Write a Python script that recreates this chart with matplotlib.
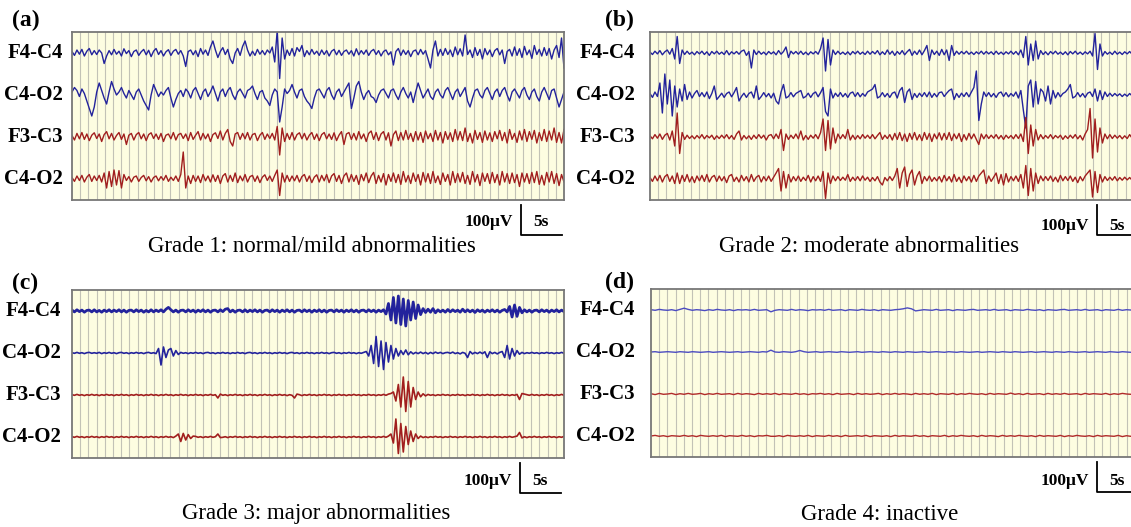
import numpy as np
import matplotlib
matplotlib.use('Agg')
import matplotlib.pyplot as plt
import matplotlib.transforms as mtransforms

channel_labels = ['F4-C4', 'C4-O2', 'F3-C3', 'C4-O2']
panel_letters = ['(a)', '(b)', '(c)', '(d)']
captions = ['Grade 1: normal/mild abnormalities', 'Grade 2: moderate abnormalities',
            'Grade 3: major abnormalities', 'Grade 4: inactive']
duration_s = 60
scale_amp = 100      # microvolts
scale_time = 5       # seconds
scale_amp_label = '100\u03bcV'
scale_time_label = '5s'

# ---- Panel (a): Grade 1 (values in microvolts, 0.3 s apart) ----
a_f4c4 = [5, -8, 10, -4, 12, -10, 6, 15, -6, 8,
          -5, 10, 0, -35, -10, 8, -6, 12, -4, 6,
          -10, 14, -2, 8, -12, 5, 10, -8, 4, 12,
          -6, 9, -12, 6, 15, -5, 8, -10, 4, 11,
          -8, 6, 12, -4, 8, -10, -45, 5, 10, -6,
          8, -12, 15, -4, 10, -8, 20, 40, 10, -15,
          5, 18, -5, 12, -20, -35, 0, 15, -8, 22,
          40, 10, -10, 6, -8, 12, -4, 8, -6, 10,
          0, 20, -30, 75, -85, 50, -20, 10, -8, 15,
          -10, 18, 5, 25, -12, 8, -6, 12, -4, 6,
          -8, 10, -5, 8, -10, 6, 12, -6, 9, -8,
          5, 10, -4, 8, -10, 14, -6, 8, -4, 10,
          -8, 6, 12, -5, 8, -10, 5, 10, -6, 4,
          -40, 5, 15, -8, 10, -5, 8, -12, 6, 10,
          -6, 12, -4, 8, -20, -50, 10, 40, -10, 12,
          -8, 15, -5, 10, -12, 20, -6, 14, -10, 60,
          -5, 10, -15, 18, -8, 12, -20, 15, -6, 10,
          -12, 8, 15, -6, 10, -35, 5, 12, -10, 20,
          -8, 14, -15, 22, -6, 10, -18, 25, -5, 12,
          -10, 18, -8, 15, -20, 10, 25, -15, 50, -50]
a_c4o2 = [10, 25, 15, -5, 20, 5, -20, -45, -70, -40,
          10, 40, 15, -10, -30, 10, 45, 20, 0, 10,
          25, 5, -10, 15, 0, -15, 10, 20, 0, -20,
          -35, -50, 0, 35, 15, -5, 10, 0, 15, 25,
          -10, -40, -15, 5, 15, -5, 20, 10, -10, 15,
          25, 5, -15, 10, 20, -5, 10, 30, 5, -20,
          10, 20, -5, 15, 25, 0, -15, 10, 20, 5,
          -10, 15, 20, 30, 5, -15, 10, 15, -10, -20,
          -35, 0, 20, 10, -90, -40, 20, 5, 15, 35,
          10, -10, 15, 20, -5, -20, -30, -45, -10, 15,
          20, 5, -10, 15, 25, 0, -15, 10, 20, -5,
          10, 25, 40, -45, -10, 30, 45, 10, -15, 5,
          15, -5, -10, -25, 0, 15, 20, 5, -10, 15,
          20, 0, -15, 10, 25, 5, -10, 10, -25, 10,
          40, 15, -10, 5, 20, -5, -15, 10, 20, 0,
          -10, 15, 25, 5, -15, 10, 20, -5, 10, 25,
          -20, -40, -10, 15, 20, 0, -10, 15, 25, 5,
          -15, 10, 20, -5, 15, 25, 0, -20, 10, 20,
          5, -10, 15, 25, 0, -15, 10, 20, -5, -20,
          10, 25, 5, -15, 15, 20, -10, -40, -15, 10]
a_f3c3 = [5, -10, 12, -6, 15, -8, 10, -12, 6, 14,
          -5, 10, -15, 8, 18, -6, 12, -10, 5, 15,
          -8, 10, -25, 6, 12, -10, 8, 15, -6, 10,
          -12, 8, 14, -5, 10, -8, 12, -15, 6, 10,
          -6, 15, -10, 8, 12, -5, 10, -12, 15, -8,
          6, 18, -10, 12, -6, 10, -15, 8, 14, -5,
          20, -10, 12, 25, -15, -30, 10, 15, -8, 12,
          -6, 15, -10, 8, 12, -12, 6, 15, -8, 10,
          -5, 12, -10, 35, -60, 30, -15, 12, -8, 15,
          -10, 8, 14, -6, 12, -10, 6, 15, -8, 10,
          -12, 8, 15, -6, 10, -8, 14, -12, 6, 18,
          -25, 10, 15, -8, 12, -10, 18, -6, 10, -15,
          12, 20, -8, 15, -12, 10, 18, -10, 14, -30,
          8, 20, -12, 15, -10, 22, -8, 12, -15, 18,
          -10, 15, -18, 20, -6, 12, -15, 22, -10, 15,
          -20, 18, -8, 14, -15, 25, -10, 18, -12, 30,
          -15, 12, -20, 22, -8, 15, -18, 20, -10, 14,
          -15, 18, -6, 22, -12, 15, -20, 25, -8, 12,
          -18, 20, -10, 25, -15, 18, -8, 22, -20, 15,
          -12, 25, -15, 20, -10, 30, -18, 15, -20, 25]
a_c4o2_r = [5, -8, 10, -5, 12, -10, 6, 15, -8, 10,
            -5, 12, -10, 20, -30, 25, -25, 30, -20, 28,
            -30, 15, -5, 8, -10, 6, 10, -8, 5, 12,
            -6, 8, -10, 5, 10, -6, 8, -4, 12, -8,
            6, -5, 10, -8, 15, 90, -30, 10, -15, 12,
            -8, 10, -12, 15, -6, 10, -10, 14, -8, 12,
            -15, 10, 18, -10, 12, -8, 20, -12, 10, -6,
            15, -10, 8, 12, -8, 10, -12, 6, 14, -5,
            10, -8, 12, 30, -55, 20, -10, 12, -8, 10,
            -6, 12, -10, 8, 15, -8, 10, -12, 6, 14,
            -10, 12, -6, 15, -12, 10, 18, -8, 12, -15,
            10, 20, -10, 15, -8, 12, -18, 15, -6, 20,
            -12, 10, 22, -15, 12, -10, 18, -20, 15, -8,
            20, -12, 15, -18, 25, -10, 12, -15, 20, -8,
            15, -20, 22, -10, 18, -15, 25, -12, 10, -18,
            20, -8, 15, -20, 25, -12, 18, -10, 22, -15,
            12, -18, 25, -10, 15, -22, 20, -8, 18, -15,
            22, -12, 15, -20, 25, -10, 18, -15, 20, -12,
            15, -25, 20, -10, 18, -15, 22, -12, 25, -18,
            12, -20, 22, -10, 25, -15, 18, -22, 15, -10]

# ---- Panel (b): Grade 2 ----
b_f4c4 = [3, -5, 6, -3, 8, -6, 4, 10, -4, 15,
          -20, 55, -35, 10, -5, 6, -4, 3, -6, 5,
          -3, 6, -5, 4, -8, 5, -3, 6, -4, 3,
          -5, 8, -6, 4, -3, 5, -4, 6, 10, -8,
          5, -50, 10, -5, 6, -4, 3, -6, 5, -3,
          4, -6, 8, -4, 5, 20, -15, 6, -3, 5,
          -4, 6, -5, 3, -6, 4, -3, 5, -4, 15,
          50, -60, 45, -40, 10, -5, 6, -4, 3, -5,
          4, -6, 5, -3, 6, -4, 3, -5, 6, -4,
          5, -3, 8, -6, 4, -5, 10, -4, 6, -8,
          5, -4, 8, -6, 4, 12, -8, 6, -5, 10,
          -6, 8, 25, -25, 10, -5, 6, -8, 12, -6,
          10, -25, 25, -8, 6, -4, 5, -3, 6, -4,
          3, -5, 4, -3, 6, -4, 5, -3, 4, -5,
          6, -4, 3, -5, 4, -3, 6, -4, 5, -6,
          10, -15, 55, -40, 30, -25, 40, -20, 8, -5,
          4, -6, 5, -3, 6, -4, 3, -5, 4, -6,
          5, -3, 6, -4, 3, -5, 4, -3, 6, -10,
          65, -55, 30, -10, 5, -4, 3, -5, 6, -4,
          3, -5, 4, -3, 5, -4, 3, -5, 4, -3]
b_c4o2 = [5, -8, 10, -5, 40, -60, 70, -30, 50, -70,
          30, -40, 20, -20, 35, -15, 10, -10, 5, 15,
          -5, 8, -6, 10, -12, 5, 30, -15, -5, 6,
          -8, 5, 10, -6, 8, 25, -20, -5, 6, -8,
          5, 10, -10, 30, -15, -5, 8, -6, 5, -10,
          6, -20, -30, 10, 35, -10, -5, 8, -6, 5,
          10, 15, -10, -5, 6, -8, 5, 10, -6, 8,
          25, -55, -70, 20, -10, 6, -5, 8, -6, 5,
          -8, 6, 10, -5, 8, -6, 5, -4, 10, 15,
          20, 35, -10, -5, 8, -6, 5, -8, 6, 10,
          -10, 15, 25, -25, 10, 20, -15, 5, -8, 6,
          -5, 8, -6, 10, -8, 5, -6, 8, 10, -5,
          6, 15, 20, -15, 5, -8, 6, -5, 8, -6,
          10, 25, 80, -85, -30, 10, -5, 8, -6, 5,
          -8, 6, 10, -5, 8, -6, 5, -4, 10, -10,
          15, -50, -110, 30, 50, -40, 45, -30, 20, 10,
          -20, 30, -30, 15, -10, 8, -6, 5, 10, 20,
          35, -10, -5, 8, -6, 5, -8, 6, 10, -5,
          20, -20, 15, -15, 10, -5, 6, -4, 5, -3,
          4, -5, 3, -4, 5, -3, 4, -5, 3, -4]
b_f3c3 = [4, -6, 8, -4, 10, -8, 6, 12, -10, 20,
          -30, 80, -55, 15, -8, 6, -5, 4, -6, 5,
          -4, 8, -6, 5, -3, 6, -8, 4, -5, 6,
          -4, 8, -6, 5, -8, 10, 20, -10, 5, -6,
          4, -8, 6, -5, 8, -4, 6, -10, 5, 8,
          -6, 10, -5, 25, -45, 10, -8, 6, -5, 10,
          -6, 20, -10, 5, -8, 6, -4, 8, -6, 15,
          60, -45, 55, -40, 30, -20, 10, -6, 8, -5,
          25, -10, 6, -8, 5, -6, 8, -4, 6, -5,
          8, -6, 5, 15, -8, 6, -5, 8, -10, 12,
          -8, 15, -12, 10, -15, 12, -8, 15, -10, 8,
          -12, 15, -8, 12, -15, 10, -6, 14, -10, 12,
          -8, 15, -12, 10, -6, 12, -15, 8, -10, 12,
          -6, 10, -8, -25, 10, -6, 8, -5, 6, -4,
          8, -6, 5, -8, 6, -4, 5, -6, 8, -5,
          10, -15, 65, -55, 40, -30, 25, -10, 8, -6,
          5, -4, 8, -6, 5, -3, 6, -8, 4, -5,
          6, -4, 8, -6, 5, -10, 10, 25, 95, -70,
          60, -50, 30, -20, 10, -6, 8, -5, 6, -4,
          5, -6, 4, -5, 8, -4, 6, -5, 4, -6]
b_c4o2_r = [5, -8, 10, -6, 12, -10, 8, 15, -8, 10,
            -15, 20, -15, 12, -8, 15, -10, 8, -12, 10,
            -6, 12, -8, 15, -10, 6, 12, -8, 10, -6,
            8, -12, 10, 15, -8, 6, -10, 12, -6, 8,
            -10, 15, -8, 6, 12, -10, 8, -6, 10, -8,
            6, 20, 35, -40, 25, -30, 15, -10, 8, -6,
            10, -8, 6, -5, 12, -10, 8, -6, 10, -8,
            25, -65, 20, -15, 10, -6, 8, -5, 6, -4,
            15, -8, 6, -5, 8, -6, 10, -4, 6, -8,
            5, -6, 8, -10, -20, 5, -6, 8, -5, 10,
            35, -30, 20, 40, -25, 15, 30, -20, 10, 25,
            -15, 8, -6, 10, -8, 5, -6, 8, -10, 12,
            -6, 8, -10, 15, -8, 6, -12, 10, -6, 8,
            -10, 12, -8, 10, 20, 30, -15, 10, -8, 6,
            20, -15, 15, -20, 18, -10, 8, -6, 10, -8,
            15, -30, 45, -55, 35, -40, 20, -15, 10, -6,
            8, -5, 10, -8, 6, -10, 12, -6, 8, -5,
            10, -8, 6, -12, 8, -6, 10, 20, 30, -60,
            25, -45, 15, -10, 8, -5, 6, -4, 8, -6,
            5, -4, 6, -3, 5, -4, 3, -5, 4, -3]

# ---- Panel (c): Grade 3 ----
c_f4c4 = [3, -3, 4, -2, 3, -4, 2, 3, -3, 4,
          -3, 2, -4, 3, -2, 4, -3, 3, -2, 4,
          -3, 3, -4, 2, 3, -3, 4, -2, 3, -4,
          2, -3, 4, -3, 3, -2, 4, -3, 6, 12,
          4, -3, 3, -4, 2, 3, -3, 4, -2, 3,
          -4, 3, -2, 4, -3, 3, -4, 2, 3, -3,
          4, -2, 6, 8, -3, 3, -4, 2, 3, -3,
          4, -3, 3, -2, 4, -3, 3, -4, 2, 3,
          -3, 4, -2, 3, -4, 3, -2, 4, -3, 3,
          -4, 2, 3, -3, 4, -2, 3, -4, 3, -2,
          4, -3, 3, -4, 2, 3, -3, 4, -2, 3,
          -4, 3, -2, 4, -3, 3, -4, 2, 3, -3,
          4, -2, 3, -4, 3, -2, 4, -10, 25, -30,
          45, -40, 50, -45, 40, -50, 35, -30, 30, -25,
          20, -12, 8, -5, 6, -4, 8, -6, 4, -3,
          3, -4, 5, -3, 4, -2, 3, -4, 6, -3,
          4, -3, 3, -5, 4, -2, 3, -4, 3, -2,
          4, -3, 3, -4, 2, 5, -3, 15, -20, 20,
          -18, 12, -6, 4, -3, 3, -4, 2, 3, -3,
          4, -2, 3, -4, 3, -2, 4, -3, 3, -2]
c_c4o2 = [1, -1, 2, -1, 1, -2, 1, 2, -1, 1,
          -1, 2, -2, 1, -1, 2, -1, 1, -2, 1,
          2, -1, 1, -2, 1, -1, 2, -1, 1, -2,
          1, 2, -1, 1, -2, 15, -40, 20, -15, 10,
          15, -10, 8, -5, 2, -1, 1, -2, 1, -1,
          2, -1, 1, -2, 1, 2, -1, 1, -2, 1,
          -1, 2, -1, 1, -2, 1, -1, 2, -1, 1,
          -2, 1, 2, -1, 1, -2, 1, -1, 2, -1,
          1, -2, 1, -1, 2, -1, 1, -2, 1, 2,
          -1, 1, -2, 1, -1, 2, -1, 1, -2, 1,
          -1, 2, -1, 1, -2, 1, 2, -1, 1, -2,
          1, -1, 2, -1, 1, -2, 1, -1, 2, 5,
          -10, 25, -35, 55, -45, 40, -55, 35, -30, 25,
          -20, 15, -10, 8, -5, 10, -6, 4, -3, 2,
          -2, 3, -2, 2, -3, 2, -2, 3, -1, 2,
          -2, 1, 2, -1, 3, -2, 1, -3, 2, -1,
          -15, 5, -3, 2, -2, 3, -2, 4, -15, 4,
          -2, 2, -3, 2, 5, -15, 25, -20, 15, -10,
          8, -4, 2, -2, 1, -1, 2, -1, 1, -2,
          1, -1, 2, -1, 1, -2, 1, -1, 2, -1]
c_f3c3 = [1, -1, 2, -1, 1, -2, 1, -1, 2, -1,
          1, -2, 1, -1, 2, -1, 1, -2, 1, -1,
          2, -1, 1, -2, 1, -1, 2, -1, 1, -2,
          1, -1, 2, -1, 1, -2, 1, -1, 2, -1,
          1, -2, 1, -1, 2, -1, 1, -2, 1, -1,
          2, -1, 1, -2, 1, -1, 2, -1, 1, -10,
          3, -1, 1, -2, 1, -1, 2, -1, 1, -2,
          1, -1, 2, -1, 1, -2, 1, -1, 2, -1,
          1, -2, 1, -1, 2, -1, 1, -2, 1, -1,
          -10, 3, 1, -2, 1, -1, 2, -1, 1, -2,
          1, -1, 2, -1, 1, -2, 1, -1, 2, -1,
          1, -2, 1, -1, 2, -1, 1, -2, 1, -1,
          2, -1, 1, -2, 1, -1, 2, -1, 3, 5,
          10, -20, 35, -40, 60, -55, 45, -40, 25, -15,
          10, -6, 4, -3, 2, -1, 1, -2, 1, -1,
          2, -1, 1, -2, 1, -1, 2, -1, 1, -2,
          1, -1, 2, -1, 1, -2, 1, -1, 2, -1,
          1, -2, 1, -1, 2, -1, 1, -2, 1, -1,
          2, -15, 5, 3, 1, -1, 2, -1, 1, -2,
          1, -1, 2, -1, 1, -2, 1, -1, 2, -1]
c_c4o2_r = [1, -1, 2, -1, 1, -2, 1, -1, 2, -1,
            1, -2, 1, -1, 2, -1, 1, -2, 1, -1,
            2, -1, 1, -2, 1, -1, 2, -1, 1, -2,
            1, -1, 2, -1, 1, -2, 1, -1, 2, -1,
            1, -2, 3, 10, -15, 12, -10, 8, -5, 3,
            2, -1, 1, -2, 1, -1, 2, -1, 1, 10,
            -2, -1, 1, -2, 1, -1, 2, -1, 1, -2,
            1, -1, 2, -1, 1, -2, 1, -1, 2, -1,
            1, -2, 1, -1, 2, -1, 1, -2, 1, -1,
            2, -1, 1, -2, 1, -1, 2, -1, 1, -2,
            1, -1, 2, -1, 1, -2, 1, -1, 2, -1,
            1, -2, 1, -1, 2, -1, 1, -2, 1, -1,
            2, -1, 1, -2, 1, -1, 2, -1, 3, 10,
            -20, 60, -55, 45, -50, 35, -25, 20, -15, 10,
            -5, 3, -2, 1, -2, 1, -1, 2, -1, 1,
            -2, 1, -1, 2, -1, 1, -2, 1, -1, 2,
            -1, 1, -2, 1, -1, 2, -1, 1, -2, 1,
            -1, 2, -1, 1, -2, 1, -1, 2, -1, 1,
            3, 15, -3, 1, -2, 1, -1, 2, -1, 1,
            -2, 1, -1, 2, -1, 1, -2, 1, -1, 2]

# ---- Panel (d): Grade 4 (0.5 s apart) ----
d_f4c4 = [1, -1, 2, 0, -1, 1, -2, 2, 6, 2,
          -1, 1, 0, -2, 1, -1, 2, 0, -1, 1,
          -2, 1, 0, 1, -1, 2, -1, 0, 1, -6,
          -1, 1, 0, -1, 2, -1, 1, 0, -2, 1,
          0, 1, -1, 2, -1, 0, 1, -2, 1, 0,
          -1, 2, 0, -1, 1, -2, 1, 0, -1, 1,
          2, 4, 7, 4, -3, -1, 1, 0, -1, 2,
          -1, 0, 1, -2, 1, 0, -1, 1, 2, -1,
          0, 1, -1, 2, -1, 0, 1, -2, 1, 0,
          -1, 2, 0, -1, 1, -2, 1, 0, -1, 1,
          2, -1, 0, 1, -1, 2, -1, 0, 1, -2,
          1, 0, -1, 2, -1, 1, 0, -2, 1, 0]
d_c4o2 = [0, 1, -1, 0, 1, 0, -1, 1, 0, -1,
          1, 0, -1, 0, 1, -1, 0, 1, 0, -1,
          0, 1, -1, 0, 1, 0, -1, 1, 0, 6,
          0, -1, 1, 0, -1, 1, 5, 1, -1, 0,
          1, -1, 0, 1, 0, -1, 1, 0, -1, 0,
          1, -1, 0, 1, 0, -1, 1, 0, -1, 1,
          0, -1, 1, 0, -1, 0, 1, -1, 0, 1,
          0, -1, 1, 0, -1, 1, 0, -1, 0, 1,
          -1, 0, 1, 0, -1, 1, 0, -1, 1, 0,
          -1, 0, 1, -1, 0, 1, 0, -1, 1, 0,
          -1, 1, 0, -1, 0, 1, -1, 0, 1, 0,
          -1, 1, 0, -1, 1, 0, -1, 0, 1, -1]
d_f3c3 = [1, -2, 2, -1, 0, 2, -2, 1, -1, 2,
          -1, 0, 2, -2, 1, -1, 2, -1, 0, 1,
          -2, 2, -1, 1, 0, -2, 2, -1, 1, -1,
          2, -2, 1, 0, -1, 2, -1, 1, -2, 1,
          0, 2, -1, 1, -2, 2, -1, 0, 1, -2,
          2, -1, 1, -1, 0, 2, -2, 1, -1, 2,
          -1, 1, 0, -2, 2, -1, 1, -1, 2, -2,
          1, 0, -1, 2, -2, 1, -1, 2, 0, -1,
          1, -2, 2, -1, 1, 0, -1, 3, -1, 1,
          -2, 2, -1, 0, 1, -2, 2, -1, 1, -1,
          2, -1, 0, 1, -2, 2, -1, 1, 0, -1,
          2, -2, 1, -1, 2, 0, -1, 1, -2, 1]
d_c4o2_r = [0, 2, -1, 1, -2, 1, 0, -1, 2, -1,
            1, -2, 2, 0, -1, 1, -1, 2, -2, 1,
            0, -1, 2, -1, 1, -2, 1, 0, 2, -1,
            -1, 1, -2, 2, 0, -1, 1, -1, 2, -2,
            1, 0, -1, 2, -1, 1, -2, 2, -1, 0,
            1, -1, 2, -2, 1, 0, -1, 1, -2, 2,
            -1, 1, 0, -1, 2, -1, 1, -2, 1, 0,
            -1, 2, -2, 1, -1, 2, 0, -1, 1, -2,
            2, -1, 1, 0, -2, 2, -1, 1, -1, 2,
            0, -1, 1, -2, 2, -1, 1, 0, -1, 2,
            -2, 1, -1, 2, 0, -1, 1, -2, 2, -1,
            1, 0, -1, 2, -2, 1, -1, 2, 0, -1]

panel_traces = [
    [a_f4c4, a_c4o2, a_f3c3, a_c4o2_r],
    [b_f4c4, b_c4o2, b_f3c3, b_c4o2_r],
    [c_f4c4, c_c4o2, c_f3c3, c_c4o2_r],
    [d_f4c4, d_c4o2, d_f3c3, d_c4o2_r],
]

# ---------------- layout (pixels) ----------------
W, H = 1131, 527
SERIF = ['Liberation Serif', 'DejaVu Serif']
# left, top, width, height of each EEG box
boxes = [(72, 32, 492, 168), (650, 32, 492, 168), (72, 290, 492, 168), (651, 289, 492, 168)]
label_x = [-0.018, -0.030, -0.022, -0.033]
letter_pos = [(12, 20), (605, 20), (12, 283), (605, 282)]
caption_pos = [(312, 246), (869, 246), (316, 513), (880, 514)]
scale_x = [54.8, 54.5, 54.6, 54.4]
scale_text_y = [-74, -86, -78, -80]
offsets = [490, 350, 210, 70]
ymax = 560
blue, red = '#23239c', '#a11e1e'
colors = [blue, blue, red, red]

fig = plt.figure(figsize=(W / 100, H / 100), dpi=100)
fig.patch.set_facecolor('white')

for p in range(4):
    l, t, w, h = boxes[p]
    ax = fig.add_axes([l / W, 1 - (t + h) / H, w / W, h / H])
    ax.set_xlim(0, duration_s)
    ax.set_ylim(0, ymax)
    ax.set_facecolor('#fdfde1')
    ax.set_xticks([])
    ax.set_yticks([])
    for s in ax.spines.values():
        s.set_color('#777777')
        s.set_linewidth(1.3)
    for g in range(1, duration_s):
        ax.axvline(g, color='#c2c2b6', lw=0.8, zorder=0)

    for k, trace in enumerate(panel_traces[p]):
        vals = np.asarray(trace, dtype=float)
        tt = np.linspace(0, duration_s, len(vals))
        lw = 1.0
        col = colors[k]
        if p == 2:
            lw = 2.0 if k == 0 else 1.2
        if p == 3:
            col = '#4b4bc0' if k < 2 else '#b02a2a'
            lw = 1.0
        ax.plot(tt, vals + offsets[k], color=col, lw=lw, zorder=2)

    trans = mtransforms.blended_transform_factory(ax.transAxes, ax.transData)
    for k, lab in enumerate(channel_labels):
        ax.text(label_x[p], offsets[k], lab, transform=trans, ha='right', va='center',
                family=SERIF, fontweight='bold', fontsize=15)

    # scale bar
    sx = scale_x[p]
    ax.plot([sx, sx, sx + scale_time], [-15, -15 - scale_amp, -15 - scale_amp],
            color='black', lw=1.3, clip_on=False)
    ax.text(sx - 1.0, scale_text_y[p], scale_amp_label, ha='right', va='center',
            family=SERIF, fontweight='bold', fontsize=12.5, clip_on=False)
    ax.text(sx + 1.5, scale_text_y[p], scale_time_label, ha='left', va='center',
            family=SERIF, fontweight='bold', fontsize=12.5, clip_on=False)

    lx, ly = letter_pos[p]
    fig.text(lx / W, 1 - ly / H, panel_letters[p], ha='left', va='center',
             family=SERIF, fontweight='bold', fontsize=17)
    cx, cy = caption_pos[p]
    fig.text(cx / W, 1 - cy / H, captions[p], ha='center', va='center',
             family=SERIF, fontsize=16.5)

fig.savefig('out.png', dpi=100)
